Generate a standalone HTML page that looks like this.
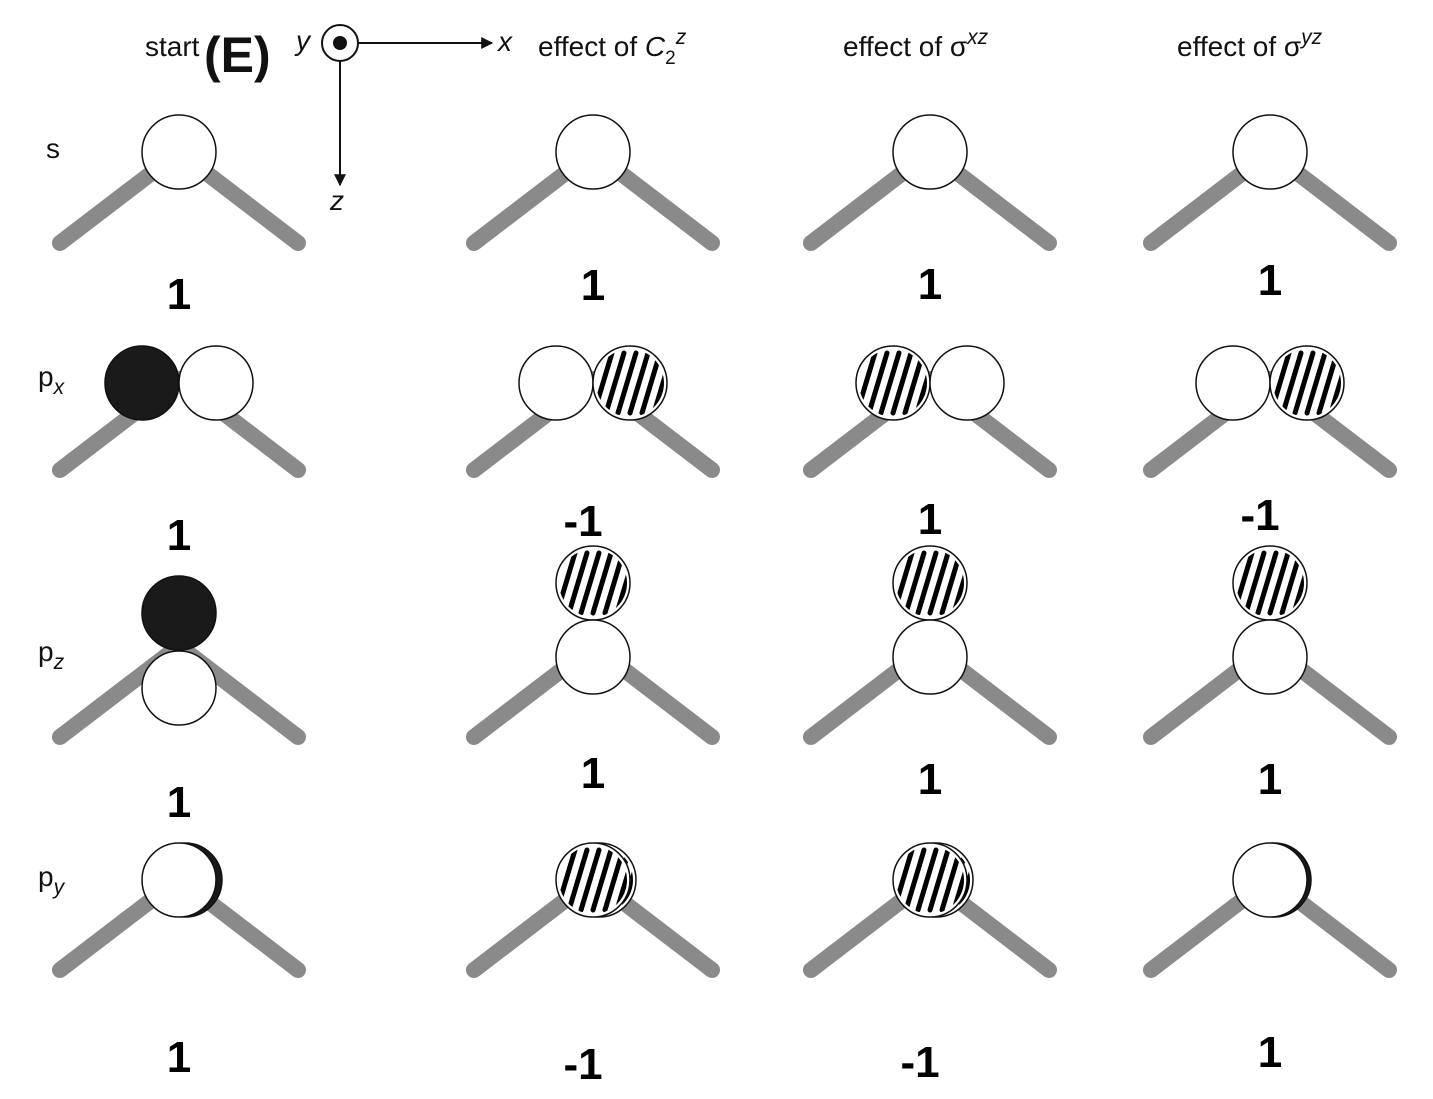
<!DOCTYPE html>
<html><head><meta charset="utf-8"><style>
html,body{margin:0;padding:0;background:#fff;}
svg{display:block;font-family:"Liberation Sans",sans-serif;}
</style></head><body>
<svg id="fig" width="1433" height="1099" viewBox="0 0 1433 1099" xmlns="http://www.w3.org/2000/svg">
<defs>
<marker id="ah" viewBox="0 0 10 10" refX="9" refY="5" markerWidth="16" markerHeight="8" markerUnits="userSpaceOnUse" orient="auto"><path d="M0,1 L10,5 L0,9 z" fill="#111"/></marker>
<marker id="ah2" viewBox="0 0 10 10" refX="9" refY="5" markerWidth="30" markerHeight="12" markerUnits="userSpaceOnUse" orient="auto"><path d="M0,0 L10,5 L0,10 z" fill="#111"/></marker>
</defs>
<g font-size="28" fill="#111">
<text x="145" y="56">start</text>
<text x="204" y="72" font-size="50" font-weight="bold">(E)</text>
<text x="296" y="50" font-style="italic">y</text>
<circle cx="340" cy="43" r="18" fill="#fff" stroke="#111" stroke-width="2"/>
<circle cx="340" cy="43" r="7" fill="#111"/>
<line x1="358" y1="43" x2="492" y2="43" stroke="#111" stroke-width="2" marker-end="url(#ah2)"/>
<text x="498" y="51" font-style="italic">x</text>
<line x1="340" y1="61" x2="340" y2="185" stroke="#111" stroke-width="2" marker-end="url(#ah2)"/>
<text x="330" y="210" font-style="italic">z</text>
<text x="538" y="56">effect of <tspan font-style="italic">C</tspan><tspan font-size="19" dy="8">2</tspan><tspan font-size="21" font-style="italic" dy="-20">z</tspan></text>
<text x="843" y="56">effect of σ<tspan font-size="21" font-style="italic" dy="-12">xz</tspan></text>
<text x="1177" y="56">effect of σ<tspan font-size="21" font-style="italic" dy="-12">yz</tspan></text>
<text x="46" y="158">s</text>
<text x="38" y="386">p<tspan font-size="21" font-style="italic" dy="8">x</tspan></text>
<text x="38" y="661">p<tspan font-size="21" font-style="italic" dy="8">z</tspan></text>
<text x="38" y="886">p<tspan font-size="21" font-style="italic" dy="8">y</tspan></text>
</g>
<g id="mols"></g>
</svg>
<script>
const colCenters = [179, 593, 930, 1270];
const rowVertices = [152, 379, 646, 879];
const characters = [[1,1,1,1],[1,-1,1,-1],[1,1,1,1],[1,-1,-1,1]];
const numberY = [[292,283,282,278],[533,519,517,513],[800,771,777,777],[1055,1062,1060,1050]];
const NS = "http://www.w3.org/2000/svg";
const g = document.getElementById('mols');
function el(tag, attrs, parent){const e=document.createElementNS(NS,tag);for(const k in attrs)e.setAttribute(k,attrs[k]);(parent||g).appendChild(e);return e;}
let clipId=0;
function circ(cx,cy,fill,parent){
  const c=el('circle',{cx:cx,cy:cy,r:37,fill:fill==='black'?'#1a1a1a':'#fff',stroke:'#111','stroke-width':1.5},parent);
  
  
  if(fill==='hatch'){
    const id='cl'+(clipId++);
    const cp=el('clipPath',{id:id},parent);el('circle',{cx:cx,cy:cy,r:34},cp);
    const hg=el('g',{'clip-path':'url(#'+id+')'},parent);
    for(let i=-2;i<=3;i++){
      const ox=cx+i*12-4;
      el('line',{x1:ox+10,y1:cy-30,x2:ox-8,y2:cy+30,stroke:'#000','stroke-width':5,'stroke-linecap':'round'},hg);
    }
  }
}
const lobes = [
 [[['w',0,0]],[['w',0,0]],[['w',0,0]],[['w',0,0]]],
 [[['black',-37,4],['w',37,4]],[['w',-37,4],['hatch',37,4]],[['hatch',-37,4],['w',37,4]],[['w',-37,4],['hatch',37,4]]],
 [[['black',0,-33],['w',0,42]],[['hatch',0,-63],['w',0,11]],[['hatch',0,-63],['w',0,11]],[['hatch',0,-63],['w',0,11]]],
 [[['black',6,1],['w',0,1]],[['hatch',6,1],['hatch',0,1]],[['hatch',6,1],['hatch',0,1]],[['black',4,1],['w',0,1]]]
];
for(let r=0;r<4;r++){
  for(let c=0;c<4;c++){
    const vx=colCenters[c], vy=rowVertices[r];
    const m=el('g',{});
    
    
    el('line',{x1:vx,y1:vy,x2:vx-119,y2:vy+91,stroke:'#8a8a8a','stroke-width':16,'stroke-linecap':'round'},m);
    el('line',{x1:vx,y1:vy,x2:vx+119,y2:vy+91,stroke:'#8a8a8a','stroke-width':16,'stroke-linecap':'round'},m);
    for(const [f,dx,dy] of lobes[r][c]) circ(vx+dx,vy+dy,f==='w'?'white':f,m);
    const v=characters[r][c];
    const t=el('text',{x:vx+(v<0?-10:0),y:numberY[r][c]+17,'font-size':44,'text-anchor':'middle',fill:'#000','font-weight':'bold'});
    t.textContent=String(v);
    
    
  }
}
</script>
</body></html>
